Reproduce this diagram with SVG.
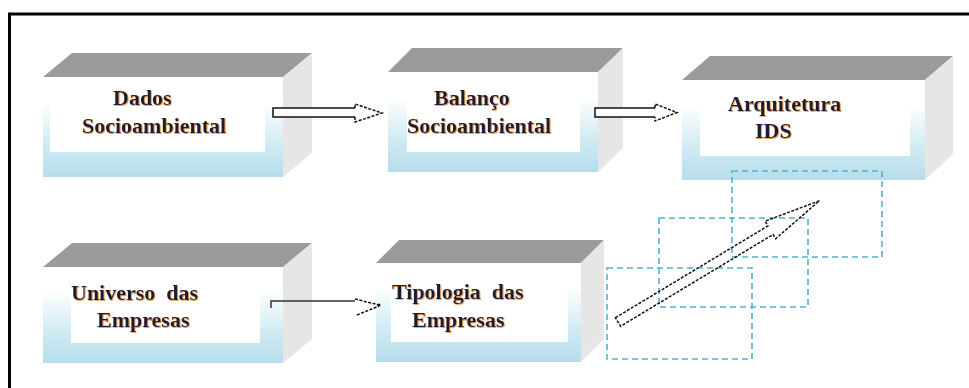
<svg xmlns="http://www.w3.org/2000/svg" width="969" height="388" viewBox="0 0 969 388">
<defs>
<linearGradient id="front" x1="0" y1="0" x2="0" y2="1">
<stop offset="0" stop-color="#ffffff"/>
<stop offset="0.25" stop-color="#ffffff"/>
<stop offset="0.7" stop-color="#cdeaf3"/>
<stop offset="1" stop-color="#b6dcea"/>
</linearGradient>
<filter id="glow" x="-10%" y="-30%" width="120%" height="160%">
<feDropShadow dx="0.8" dy="0.8" stdDeviation="0.7" flood-color="#e0861c" flood-opacity="0.9"/>
</filter>
</defs>
<style>
.top{fill:#9b9b9b}
.side{fill:#e6e6e6}
.front{fill:url(#front)}
.inner{fill:#ffffff}
.lbl{font-family:"Liberation Serif","Times New Roman",serif;font-weight:bold;font-size:22px;fill:#1c1c36;filter:url(#glow)}
.dash{fill:none;stroke:#4fb3cf;stroke-width:1.6;stroke-dasharray:6 4}
.arr{fill:#ffffff;stroke:#111;stroke-width:1.5}
.arrd{fill:none;stroke:#111;stroke-width:1.5;stroke-dasharray:3 1.5}
</style>
<rect x="0" y="0" width="969" height="388" fill="#ffffff"/>
<g id="frame">
<line x1="8" y1="14" x2="969" y2="14" stroke="#000" stroke-width="3"/>
<line x1="9.5" y1="13" x2="9.5" y2="388" stroke="#000" stroke-width="3"/>
</g>
<g id="dados">
<polygon class="top" points="43,77 72,53 312,53 283,77"/>
<polygon class="side" points="283,77 312,53 312,153 283,177"/>
<rect class="front" x="43" y="77" width="240" height="100"/>
<rect class="inner" x="50" y="77" width="215" height="75"/>
<text class="lbl" x="113" y="105">Dados</text>
<text class="lbl" x="82" y="133">Socioambiental</text>
</g>
<g id="balanco">
<polygon class="top" points="388,72 412,48 623,48 598,72"/>
<polygon class="side" points="598,72 623,48 623,148 598,172"/>
<rect class="front" x="388" y="72" width="210" height="100"/>
<rect class="inner" x="407" y="72" width="173" height="80"/>
<text class="lbl" x="434" y="105">Balanço</text>
<text class="lbl" x="407" y="133">Socioambiental</text>
</g>
<g id="arquitetura">
<polygon class="top" points="682,80 710,56 953,56 925,80"/>
<polygon class="side" points="925,80 953,56 953,154 925,180"/>
<rect class="front" x="682" y="80" width="243" height="100"/>
<rect class="inner" x="700" y="80" width="210" height="76"/>
<text class="lbl" x="728" y="111">Arquitetura</text>
<text class="lbl" x="755" y="138">IDS</text>
</g>
<g id="universo">
<polygon class="top" points="43,267 72,243 312,243 283,267"/>
<polygon class="side" points="283,267 312,243 312,339 283,363"/>
<rect class="front" x="43" y="267" width="240" height="96"/>
<rect class="inner" x="71" y="267" width="189" height="76"/>
<text class="lbl" x="71" y="300" xml:space="preserve">Universo  das</text>
<text class="lbl" x="97" y="327">Empresas</text>
</g>
<g id="tipologia">
<polygon class="top" points="376,263 399,240 604,240 581,263"/>
<polygon class="side" points="581,263 604,240 604,339 581,362"/>
<rect class="front" x="376" y="263" width="205" height="99"/>
<rect class="inner" x="391" y="263" width="177" height="79"/>
<text class="lbl" x="392" y="299" xml:space="preserve">Tipologia  das</text>
<text class="lbl" x="412" y="327">Empresas</text>
</g>
<g id="highlights">
<rect class="dash" x="732" y="171" width="150" height="86"/>
<rect class="dash" x="659" y="218" width="149" height="89"/>
<rect class="dash" x="607" y="268" width="145" height="91"/>
</g>
<g id="connectors">
<polygon points="273,108 355,108 355,104 382,113 355,122 355,117 273,117" fill="#fff"/>
<path class="arr" d="M355,108 L273,108 L273,117 L355,117" fill="none"/>
<path class="arrd" d="M355,108 L355,104 L382,113 L355,122 L355,117"/>
<polygon points="595,108 655,108 655,104 677,112.5 655,121 655,117 595,117" fill="#fff"/>
<path class="arr" d="M655,108 L595,108 L595,117 L655,117" fill="none"/>
<path class="arrd" d="M655,108 L655,104 L677,112.5 L655,121 L655,117"/>
<path d="M271,308 L271,301 L355,301" fill="none" stroke="#333" stroke-width="1.5"/>
<path class="arrd" d="M355,299 L379,305 M357,315 L379,306"/>
<circle cx="379" cy="305" r="1.5" fill="#111"/>
<g transform="translate(618,322) rotate(-31.05)">
<path class="arrd" d="M0,-5 L178,-5 L178,-10.5 L235,0 L178,10 L178,5 L0,5 Z" fill="#fff" stroke-width="1.3" stroke-dasharray="3 1"/>
</g>
</g>
</svg>
